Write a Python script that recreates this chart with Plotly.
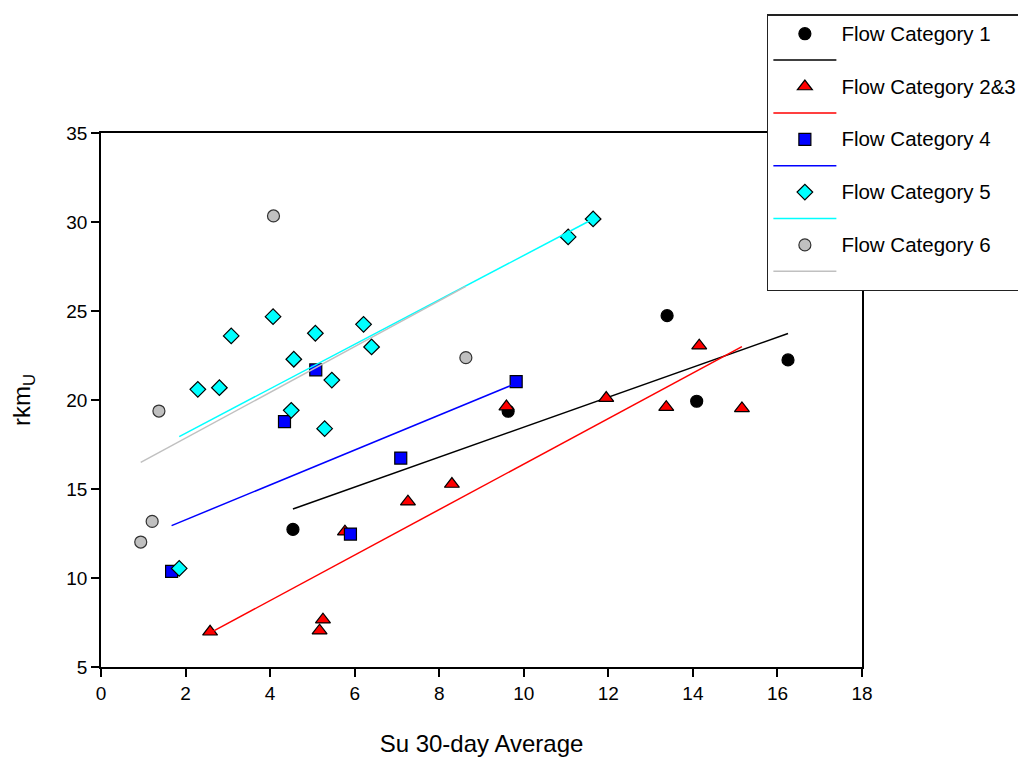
import numpy as np
import plotly.graph_objects as go

# Data
cat1_x = [4.54, 9.63, 13.39, 14.09, 16.25]
cat1_y = [12.73, 19.37, 24.74, 19.93, 22.25]

cat23_x = [2.58, 5.17, 5.25, 5.77, 7.26, 8.30, 9.59, 11.95, 13.37, 14.15, 15.16]
cat23_y = [6.98, 7.04, 7.66, 12.60, 14.29, 15.28, 19.63, 20.11, 19.60, 23.05, 19.53]

cat4_x = [1.67, 4.34, 5.08, 5.90, 7.09, 9.82]
cat4_y = [10.37, 18.78, 21.69, 12.47, 16.74, 21.03]

cat5_x = [1.85, 2.29, 2.80, 3.08, 4.07, 4.50, 4.56, 5.07, 5.29, 5.46, 6.21, 6.40, 11.05, 11.64]
cat5_y = [10.54, 20.60, 20.69, 23.60, 24.68, 19.42, 22.29, 23.75, 18.39, 21.12, 24.25, 22.98, 29.16, 30.17]

cat6_x = [0.94, 1.21, 1.37, 4.08, 8.63]
cat6_y = [12.02, 13.18, 19.38, 30.34, 22.38]

names = ["Flow Category 1", "Flow Category 2&3", "Flow Category 4", "Flow Category 5", "Flow Category 6"]
xs = [cat1_x, cat23_x, cat4_x, cat5_x, cat6_x]
ys = [cat1_y, cat23_y, cat4_y, cat5_y, cat6_y]
colors = ["#000000", "#ff0000", "#0000ff", "#00ffff", "#c0c0c0"]
symbols = ["circle", "triangle-up", "square", "diamond", "circle"]
sizes = [12, 13, 12, 12, 12]
outline = ["#000000", "#000000", "#000000", "#000000", "#333333"]

font_family = "Liberation Sans, Arial, sans-serif"

fig = go.Figure()
for name, x, y, c, s, sz, oc in zip(names, xs, ys, colors, symbols, sizes, outline):
    fig.add_trace(go.Scatter(
        x=x, y=y, mode="markers",
        name="<span style='font-size:20.5px'>" + name + "</span>",
        marker=dict(symbol=s, size=sz, color=c, line=dict(color=oc, width=1.2)),
    ))
    xa = np.array(x)
    ya = np.array(y)
    slope, intercept = np.polyfit(xa, ya, 1)
    lx = np.array([xa.min(), xa.max()])
    fig.add_trace(go.Scatter(
        x=lx, y=slope * lx + intercept, mode="lines", name=" ",
        line=dict(color=c, width=1.5),
    ))

fig.update_layout(
    width=1026, height=761,
    margin=dict(l=93, r=172, t=125, b=102, autoexpand=False),
    paper_bgcolor="white", plot_bgcolor="white",
    font=dict(family=font_family, size=19, color="black"),
    showlegend=True,
    legend=dict(
        x=0.875, y=1.2228, xanchor="left", yanchor="top",
        bordercolor="#222222", borderwidth=1.5, bgcolor="white",
        font=dict(size=18), itemwidth=63, tracegroupgap=0,
    ),
    xaxis=dict(
        range=[0, 18], tickvals=list(range(0, 19, 2)),
        showline=True, mirror=True, linecolor="black", linewidth=1.5,
        ticks="outside", ticklen=8, tickwidth=1.5, tickcolor="black",
        showgrid=False, zeroline=False,
        title=dict(text="Su 30-day Average", font=dict(size=24), standoff=33),
        tickfont=dict(size=19),
    ),
    yaxis=dict(
        range=[5, 35], tickvals=list(range(5, 36, 5)),
        showline=True, mirror=True, linecolor="black", linewidth=1.5,
        ticks="outside", ticklen=8, tickwidth=1.5, tickcolor="black",
        showgrid=False, zeroline=False,
        title=dict(text="rkm<sub>U</sub>", font=dict(size=24), standoff=33),
        tickfont=dict(size=19),
    ),
)

fig.write_html("out.html")
